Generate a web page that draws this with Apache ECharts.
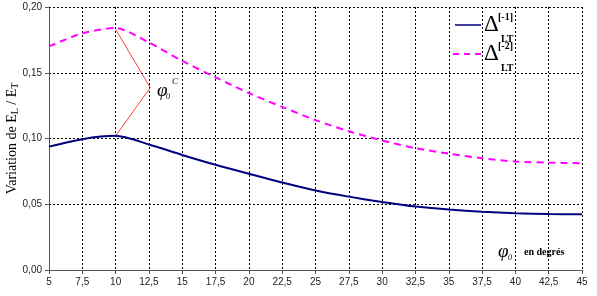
<!DOCTYPE html>
<html><head><meta charset="utf-8">
<script src="https://cdn.jsdelivr.net/npm/echarts@6/dist/echarts.min.js"></script>
<style>html,body{margin:0;padding:0;background:#fff}#c{width:597px;height:296px}</style>
</head><body><div id="c"></div>
<script>
const xValues = [5, 7.5, 10, 12.5, 15, 17.5, 20, 22.5, 25, 27.5, 30, 32.5, 35, 37.5, 40, 42.5, 45];
const delta1 = [0.0938, 0.0995, 0.1020, 0.0955, 0.0875, 0.0800, 0.0732, 0.0665, 0.0605, 0.0558, 0.0517, 0.0482, 0.0460, 0.0443, 0.0432, 0.0426, 0.0424];
const delta2 = [0.1700, 0.1800, 0.1840, 0.1730, 0.1590, 0.1465, 0.1345, 0.1240, 0.1140, 0.1055, 0.0985, 0.0926, 0.0885, 0.0850, 0.0825, 0.0817, 0.0812];
const annotX = [10, 12.6, 10];
const annotY = [0.1830, 0.1387, 0.1020];

const chart = echarts.init(document.getElementById('c'));
const fmtComma = (d) => v => v.toFixed(d).replace('.', ',');
const xfmt = v => (Number.isInteger(v) ? String(v) : v.toFixed(1).replace('.', ','));
chart.setOption({
  animation: false,
  backgroundColor: '#fff',
  grid: {left: 49, right: 15, top: 7, bottom: 26, containLabel: false, outerBoundsMode: 'none'},
  xAxis: {
    type: 'value', min: 5, max: 45, interval: 2.5,
    axisLine: {show: true, lineStyle: {color: '#555', width: 1}},
    axisTick: {show: true, length: 4, lineStyle: {color: '#555'}},
    axisLabel: {formatter: xfmt, fontFamily: 'Liberation Sans', fontSize: 10, color: '#222', margin: 7},
    splitLine: {show: true, lineStyle: {color: '#000', type: [2, 2], width: 1}}
  },
  yAxis: {
    type: 'value', min: 0, max: 0.2, interval: 0.05,
    axisLine: {show: true, lineStyle: {color: '#555', width: 1}},
    axisTick: {show: true, length: 4, lineStyle: {color: '#555'}},
    axisLabel: {formatter: fmtComma(2), fontFamily: 'Liberation Sans', fontSize: 10, color: '#222', margin: 7},
    splitLine: {show: true, lineStyle: {color: '#000', type: [2, 2], width: 1}},
    name: '{t|Variation de E}{s|L}{t| / E}{s|T}',
    nameLocation: 'middle', nameGap: 29, nameRotate: 90, nameMoveOverlap: false,
    nameTextStyle: {
      rich: {
        t: {fontFamily: 'Liberation Serif', fontSize: 14, color: '#000', lineHeight: 16},
        s: {fontFamily: 'Liberation Serif', fontSize: 10, color: '#000', verticalAlign: 'bottom', lineHeight: 16, padding: [6, 0, 0, 0]}
      }
    }
  },
  series: [
    {type: 'line', data: xValues.map((x, i) => [x, delta1[i]]), smooth: 0.25, symbol: 'none',
     lineStyle: {color: '#000080', width: 2}, z: 3},
    {type: 'line', data: xValues.map((x, i) => [x, delta2[i]]), smooth: 0.25, symbol: 'none',
     lineStyle: {color: '#ff00ff', width: 2, type: [7, 5]}, z: 3},
    {type: 'line', data: annotX.map((x, i) => [x, annotY[i]]), symbol: 'none',
     lineStyle: {color: '#ff4040', width: 1}, z: 2}
  ],
  graphic: [
    {type: 'line', shape: {x1: 455, y1: 25, x2: 481, y2: 25}, style: {stroke: '#000080', lineWidth: 1.5}},
    {type: 'text', left: 484, top: 13, style: {text: 'Δ', font: '23px "Liberation Serif"', fill: '#000'}},
    {type: 'text', left: 498, top: 12, style: {text: '[-1]', font: 'bold 10px "Liberation Serif"', fill: '#000'}},
    {type: 'text', left: 501, top: 34, style: {text: 'LT', font: 'bold 10px "Liberation Serif"', fill: '#000'}},
    {type: 'line', shape: {x1: 453, y1: 54, x2: 483, y2: 54}, style: {stroke: '#ff00ff', lineWidth: 2, lineDash: [6, 5]}},
    {type: 'text', left: 484, top: 42, style: {text: 'Δ', font: '23px "Liberation Serif"', fill: '#000'}},
    {type: 'text', left: 498, top: 41, style: {text: '[-2]', font: 'bold 10px "Liberation Serif"', fill: '#000'}},
    {type: 'text', left: 501, top: 63, style: {text: 'LT', font: 'bold 10px "Liberation Serif"', fill: '#000'}},
    {type: 'text', left: 157, top: 81, style: {text: 'φ', font: 'italic 19px "Liberation Serif"', fill: '#000'}},
    {type: 'text', left: 166, top: 93, style: {text: '0', font: 'italic 8px "Liberation Serif"', fill: '#000'}},
    {type: 'text', left: 172, top: 77, style: {text: 'C', font: 'italic 9px "Liberation Serif"', fill: '#000'}},
    {type: 'text', left: 498, top: 242, style: {text: 'φ', font: 'italic 19px "Liberation Serif"', fill: '#000'}},
    {type: 'text', left: 508, top: 254, style: {text: '0', font: 'italic 8px "Liberation Serif"', fill: '#000'}},
    {type: 'text', left: 524, top: 247, style: {text: 'en degrés', font: 'bold 10px "Liberation Serif"', fill: '#000'}}
  ]
});
</script></body></html>
